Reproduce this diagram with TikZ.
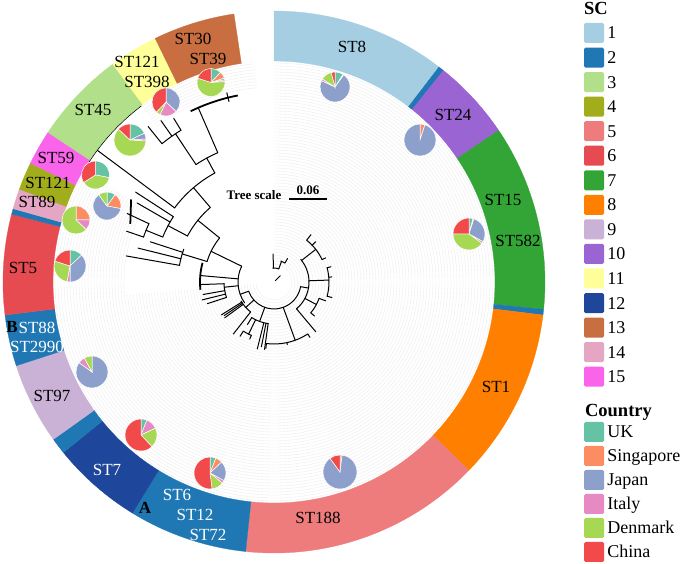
\documentclass[tikz,border=0pt]{standalone}
\usepackage{fontspec}
\setmainfont{Liberation Serif}
\usetikzlibrary{positioning}

\definecolor{sc1}{HTML}{A6CEE3}
\definecolor{sc2}{HTML}{1F78B4}
\definecolor{sc3}{HTML}{B2DF8A}
\definecolor{sc4}{HTML}{A2AD1C}
\definecolor{sc5}{HTML}{EE7C7C}
\definecolor{sc6}{HTML}{E64B51}
\definecolor{sc7}{HTML}{33A537}
\definecolor{sc8}{HTML}{FF7F00}
\definecolor{sc9}{HTML}{CAB2D6}
\definecolor{sc10}{HTML}{9A64D2}
\definecolor{sc11}{HTML}{FFFF99}
\definecolor{sc12}{HTML}{1E469A}
\definecolor{sc13}{HTML}{C86E40}
\definecolor{sc14}{HTML}{E5A6C4}
\definecolor{sc15}{HTML}{FA64EB}
\definecolor{ctry1}{HTML}{66C2A5}
\definecolor{ctry2}{HTML}{FC8D62}
\definecolor{ctry3}{HTML}{8DA0CB}
\definecolor{ctry4}{HTML}{E78AC3}
\definecolor{ctry5}{HTML}{A6D854}
\definecolor{ctry6}{HTML}{F24A4A}

\tikzset{
    treeline/.style={line width=1pt, line cap=round},
    leafbunch/.style={line width=1.8pt},
    texture/.style={gray!16, line width=0.35pt},
    stlab/.style={font=\fontsize{17}{19}\selectfont, inner sep=0pt, text height=11.5pt, text depth=0pt},
    stwhite/.style={stlab, text=white},
    cladetag/.style={stlab, font=\bfseries\fontsize{17}{19}\selectfont},
    lgbox/.style={minimum size=20pt, inner sep=0pt, rounded corners=1.5pt},
    lgtxt/.style={font=\fontsize{18}{20}\selectfont, inner sep=0pt, text height=12pt, text depth=0pt},
    lgtitle/.style={font=\bfseries\fontsize{18.5}{20}\selectfont, inner sep=0pt, text height=12.5pt, text depth=0pt},
    scalelab/.style={font=\bfseries\fontsize{13}{15}\selectfont, inner sep=0pt, text height=9pt, text depth=0pt},
}

\newcommand{\tarc}[3]{\draw[treeline] (#2:#1) arc[start angle=#2, end angle=#3, radius=#1];}
\newcommand{\tbr}[3]{\draw[treeline] (#1:#2) -- (#1:#3);}
\newcommand{\scband}[3]{\fill[#1, draw=#1, line width=0.3pt] (#2:221) arc[start angle=#2, end angle=#3, radius=221] -- (#3:271) arc[start angle=#3, end angle=#2, radius=271] -- cycle;}
\newcommand{\countrypie}[4]{%
    \xdef\pieang{90}%
    \foreach \f [count=\k] in {#4} {%
        \pgfmathsetmacro\pieend{\pieang-360*\f}%
        \ifdim\f pt>0pt
            \fill[ctry\k, draw=white, line width=0.5pt] (#1,#2) -- ++(\pieang:#3) arc[start angle=\pieang, end angle=\pieend, radius=#3] -- cycle;
        \fi
        \xdef\pieang{\pieend}%
    }%
}

\begin{document}
\begin{tikzpicture}[x=1pt,y=1pt]
    \useasboundingbox (0,0) rectangle (685,564);
    \begin{scope}[shift={(274,282)}]
        \foreach \r in {18,21,...,219} {\draw[texture] (90:\r) arc[start angle=90, end angle=-175, radius=\r];}
        \foreach \r in {150,153,...,219} {\draw[texture] (-175:\r) arc[start angle=-175, end angle=-210, radius=\r];}
        \foreach \r in {195,198,...,219} {\draw[texture] (95:\r) arc[start angle=95, end angle=127, radius=\r];}

        \tarc{27}{200}{350}
        \tbr{200}{27}{36}
        \tarc{36}{154}{215}
        \tbr{45}{2}{9}
        \tarc{14}{70}{95}
        \tbr{92}{14}{28}
        \tbr{70}{14}{22}
        \tarc{22}{60}{72}
        \tbr{60}{22}{27}
        \tbr{350}{27}{35}
        \tarc{35}{310}{400}
        \tbr{38}{35}{53}
        \tarc{53}{25}{52}
        \tbr{52}{53}{60} \tbr{44}{53}{58} \tbr{25}{53}{57}
        \tbr{2}{35}{55}
        \tarc{55}{-15}{15}
        \tbr{15}{55}{59} \tbr{5}{55}{58} \tbr{-15}{55}{60}
        \tbr{-28}{35}{48}
        \tarc{48}{-40}{-20}
        \tbr{-20}{48}{55} \tbr{-40}{48}{53}
        \tbr{-50}{35}{65}
        \tbr{290}{27}{62}
        \tarc{62}{263}{303}
        \tbr{303}{62}{66} \tbr{263}{62}{67} \tbr{282}{62}{64}
        \tbr{250}{27}{42}
        \tarc{42}{238}{262}
        \tbr{262}{42}{68} \tbr{259}{42}{66} \tbr{256}{42}{69}
        \tbr{244}{42}{58}
        \tarc{58}{238}{247}
        \tbr{238}{58}{64} \tbr{247}{58}{62} \tbr{238}{42}{50}
        \tbr{222}{27}{38}
        \tarc{38}{210}{232}
        \tbr{232}{38}{66} \tbr{212}{38}{62} \tbr{214}{38}{60} \tbr{216}{38}{61}
        \tbr{186}{36}{50}
        \tarc{50}{182}{198}
        \tbr{198}{50}{70} \tbr{194}{50}{74} \tbr{190}{50}{72} \tbr{182}{50}{74}
        \tbr{175}{36}{74}
        \draw[leafbunch] (165:74) arc[start angle=165, end angle=186, radius=74];
        \tbr{154}{36}{70}
        \tarc{70}{141}{163}
        \tbr{141}{70}{98}
        \tarc{98}{130.5}{152}
        \tbr{152}{98}{120}
        \tarc{120}{147}{158}
        \tbr{147}{120}{165} \tbr{150}{120}{158} \tbr{158}{120}{138}
        \tarc{138}{155}{161}
        \tbr{155}{138}{162} \tbr{161}{138}{156}
        \draw[leafbunch] (150:165) -- (158:155);
        \tbr{130.5}{98}{124}
        \tarc{124}{118.5}{143.3}
        \tbr{143.3}{124}{221}
        \tbr{118.5}{124}{141}
        \tarc{141}{113.5}{123.6}
        \tbr{123.6}{141}{178}
        \tarc{178}{121.5}{129}
        \tbr{129}{178}{200} \tbr{121.5}{178}{192} \tbr{125}{178}{197}
        \tbr{113.5}{141}{190}
        \draw[leafbunch] (101:190) arc[start angle=101, end angle=116, radius=190];
        \tbr{104}{186}{195}
        \tbr{163}{70}{96}
        \tarc{96}{160}{170}
        \tbr{162}{96}{130} \tbr{170}{96}{150} \tbr{166}{96}{140}
        \draw[leafbunch] (127:221) arc[start angle=127, end angle=147, radius=221];

        \scband{sc1}{90}{52.5}
        \scband{sc2}{52.5}{51.3}
        \scband{sc10}{51.3}{34}
        \scband{sc7}{34}{-5.8}
        \scband{sc2}{-5.8}{-7}
        \scband{sc8}{-7}{-44}
        \scband{sc5}{-44}{-96}
        \scband{sc2}{-96}{-121.5}
        \scband{sc12}{-121.5}{-141}
        \scband{sc2}{-141}{-144.5}
        \scband{sc9}{-144.5}{-162}
        \scband{sc2}{-162}{-173}
        \scband{sc6}{-173}{-194.5}
        \scband{sc2}{-194.5}{-195.7}
        \scband{sc14}{-195.7}{-200}
        \scband{sc4}{-200}{-206}
        \scband{sc15}{-206}{-213.5}
        \scband{sc3}{-213.5}{-233.5}
        \scband{sc11}{-233.5}{-244}
        \scband{sc13}{-244}{-261.5}
    \end{scope}

    \countrypie{335}{477}{15}{0.09,0.01,0.72,0.02,0.12,0.04}
    \countrypie{420}{424}{16}{0,0.05,0.95,0,0,0}
    \countrypie{469}{330}{16}{0.04,0.01,0.28,0.02,0.40,0.25}
    \countrypie{340}{92}{17}{0,0.02,0.88,0,0,0.10}
    \countrypie{210}{91}{16}{0.06,0.07,0.20,0.03,0.12,0.52}
    \countrypie{141}{129}{16}{0.06,0,0,0.12,0.20,0.62}
    \countrypie{92}{192}{16}{0,0,0.85,0.07,0.08,0}
    \countrypie{70}{298}{16}{0.13,0,0.37,0.03,0.27,0.20}
    \countrypie{76}{344}{14}{0,0.25,0,0.12,0.63,0}
    \countrypie{107}{358}{14}{0.10,0.18,0.62,0,0.10,0}
    \countrypie{95.5}{389}{14}{0.28,0,0,0,0.38,0.34}
    \countrypie{130}{424}{16}{0.18,0,0.06,0.02,0.61,0.13}
    \countrypie{166}{462}{14}{0,0,0.37,0.20,0.05,0.38}
    \countrypie{211}{481.5}{14}{0.12,0.08,0.02,0.02,0.56,0.20}

    \node[stlab] (st8) at (352,517) {ST8};
    \node[stlab] (st24) at (453,449) {ST24};
    \node[stlab] (st15) at (503,364) {ST15};
    \node[stlab] (st582) at (518,323) {ST582};
    \node[stlab] (st1) at (496,177) {ST1};
    \node[stlab] (st188) at (318,46) {ST188};
    \node[stwhite] (st6) at (177,69) {ST6};
    \node[stwhite] (st12) at (195,49) {ST12};
    \node[stwhite] (st72) at (208,29) {ST72};
    \node[cladetag] (tagA) at (145,56) {A};
    \node[stwhite] (st7) at (107,94) {ST7};
    \node[stlab] (st97) at (52,168) {ST97};
    \node[cladetag] (tagB) at (12,237) {B};
    \node[stwhite] (st88) at (37,236) {ST88};
    \node[stwhite] (st2990) at (37,217) {ST2990};
    \node[stlab] (st5) at (23,296) {ST5};
    \node[stlab] (st89) at (37,362) {ST89};
    \node[stlab] (st121a) at (48,381) {ST121};
    \node[stlab] (st59) at (56,406) {ST59};
    \node[stlab] (st45) at (93,454) {ST45};
    \node[stlab] (st121b) at (137,502) {ST121};
    \node[stlab] (st398) at (147,482) {ST398};
    \node[stlab] (st30) at (193,525) {ST30};
    \node[stlab] (st39) at (208,505) {ST39};

    \node[scalelab] (tscale) at (254,369) {Tree scale};
    \node[scalelab] (tsval) at (308,374) {0.06};
    \coordinate (bar-a) at (289,365);
    \coordinate (bar-b) at (327,365);
    \draw[line width=1.3pt] (bar-a) -- (bar-b);

    \node[lgtitle] (sctitle) at (596,556) {SC};
    \foreach \i in {1,...,15} {
        \node[lgbox, fill=sc\i] (sc\i) at (594,{531-(\i-1)*24.55}) {};
        \node[lgtxt, right=3pt of sc\i] (sclab\i) {\i};
    }
    \node[lgtitle] (ctitle) at (618.5,154) {Country};
    \foreach \c [count=\k] in {UK,Singapore,Japan,Italy,Denmark,China} {
        \node[lgbox, fill=ctry\k] (ctry\k) at (594,{132-(\k-1)*24}) {};
        \node[lgtxt, right=3pt of ctry\k] (ctrylab\k) {\c};
    }
\end{tikzpicture}
\end{document}
